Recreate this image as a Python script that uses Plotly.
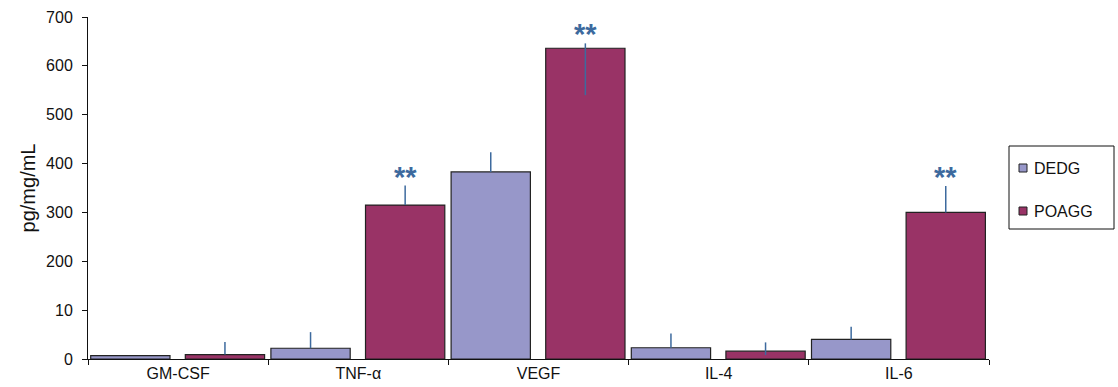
import plotly.graph_objects as go

# Cytokine levels per group
categories = ["GM-CSF", "TNF-α", "VEGF", "IL-4", "IL-6"]
dedg_values = [7, 22, 383, 23, 40]
dedg_err_plus = [0, 33, 40, 29, 26]
poagg_values = [9, 315, 636, 16, 300]
poagg_err_plus = [26, 40, 10, 18, 54]
poagg_err_minus = [0, 0, 96, 8, 0]
significant = [False, True, True, False, True]

y_tickvals = [0, 100, 200, 300, 400, 500, 600, 700]
y_ticktext = ["0", "10", "200", "300", "400", "500", "600", "700"]

series_names = ["DEDG", "POAGG"]
DEDG_COLOR = "#9797C9"
POAGG_COLOR = "#993366"
ERR_COLOR = "#3D6A9E"
EDGE = "#222222"
FONT = "Liberation Sans, Arial, sans-serif"

BAR_W = 0.44
DEDG_OFF = -0.485
POAGG_OFF = 0.04

W, H = 1118, 387
L, R, T, B = 88, 129, 17, 28
PW, PH = W - L - R, H - T - B


def px_x(px):
    return (px - L) / PW


def px_y(py):
    return 1 - (py - T) / PH


fig = go.Figure()
fig.add_trace(go.Bar(
    name=series_names[0], x=categories, y=dedg_values,
    width=BAR_W, offset=DEDG_OFF,
    marker=dict(color=DEDG_COLOR, line=dict(color=EDGE, width=1.2)),
    error_y=dict(type="data", symmetric=False, array=dedg_err_plus,
                 arrayminus=[0] * len(dedg_values),
                 color=ERR_COLOR, thickness=1.5, width=0),
))
fig.add_trace(go.Bar(
    name=series_names[1], x=categories, y=poagg_values,
    width=BAR_W, offset=POAGG_OFF,
    marker=dict(color=POAGG_COLOR, line=dict(color=EDGE, width=1.2)),
    error_y=dict(type="data", symmetric=False, array=poagg_err_plus,
                 arrayminus=poagg_err_minus,
                 color=ERR_COLOR, thickness=1.5, width=0),
))

# Significance markers above the POAGG bars
for i, flag in enumerate(significant):
    if flag:
        fig.add_annotation(
            x=i + POAGG_OFF + BAR_W / 2,
            y=poagg_values[i] + poagg_err_plus[i],
            text="<b>**</b>", showarrow=False,
            yanchor="middle", yshift=9,
            font=dict(family=FONT, size=29, color=ERR_COLOR),
        )

# Legend box drawn in paper space
fig.add_shape(type="rect", xref="paper", yref="paper",
              x0=px_x(1009), x1=px_x(1114), y0=px_y(229), y1=px_y(146),
              line=dict(color="#111111", width=1), fillcolor="white",
              layer="below")
for name, color, cy in zip(series_names, [DEDG_COLOR, POAGG_COLOR], [168, 211]):
    fig.add_shape(type="rect", xref="paper", yref="paper",
                  x0=px_x(1019), x1=px_x(1027), y0=px_y(cy + 4), y1=px_y(cy - 4),
                  line=dict(color=EDGE, width=1), fillcolor=color)
    fig.add_annotation(xref="paper", yref="paper", x=px_x(1032), y=px_y(cy),
                       xanchor="left", yanchor="middle", showarrow=False,
                       text=name, font=dict(family=FONT, size=16, color="#111111"))

fig.update_layout(
    width=W, height=H,
    margin=dict(l=L, r=R, t=T, b=B, autoexpand=False),
    paper_bgcolor="white", plot_bgcolor="white",
    barmode="overlay",
    showlegend=False,
    font=dict(family=FONT, size=16, color="#111111"),
)
fig.update_xaxes(
    type="category", range=[-0.5, 4.5], automargin=False,
    showline=True, linecolor="#111111", linewidth=1,
    ticks="outside", tickson="boundaries", ticklen=5, tickcolor="#111111",
    showgrid=False, tickfont=dict(size=16),
)
fig.update_yaxes(
    range=[0, 700], tickvals=y_tickvals, ticktext=y_ticktext,
    automargin=False,
    showline=True, linecolor="#111111", linewidth=1,
    ticks="outside", ticklen=5, tickcolor="#111111", ticklabelstandoff=6,
    showgrid=False, zeroline=False, tickfont=dict(size=16),
    title=dict(text="pg/mg/mL", font=dict(size=20), standoff=5),
)

fig.write_html("out.html")
